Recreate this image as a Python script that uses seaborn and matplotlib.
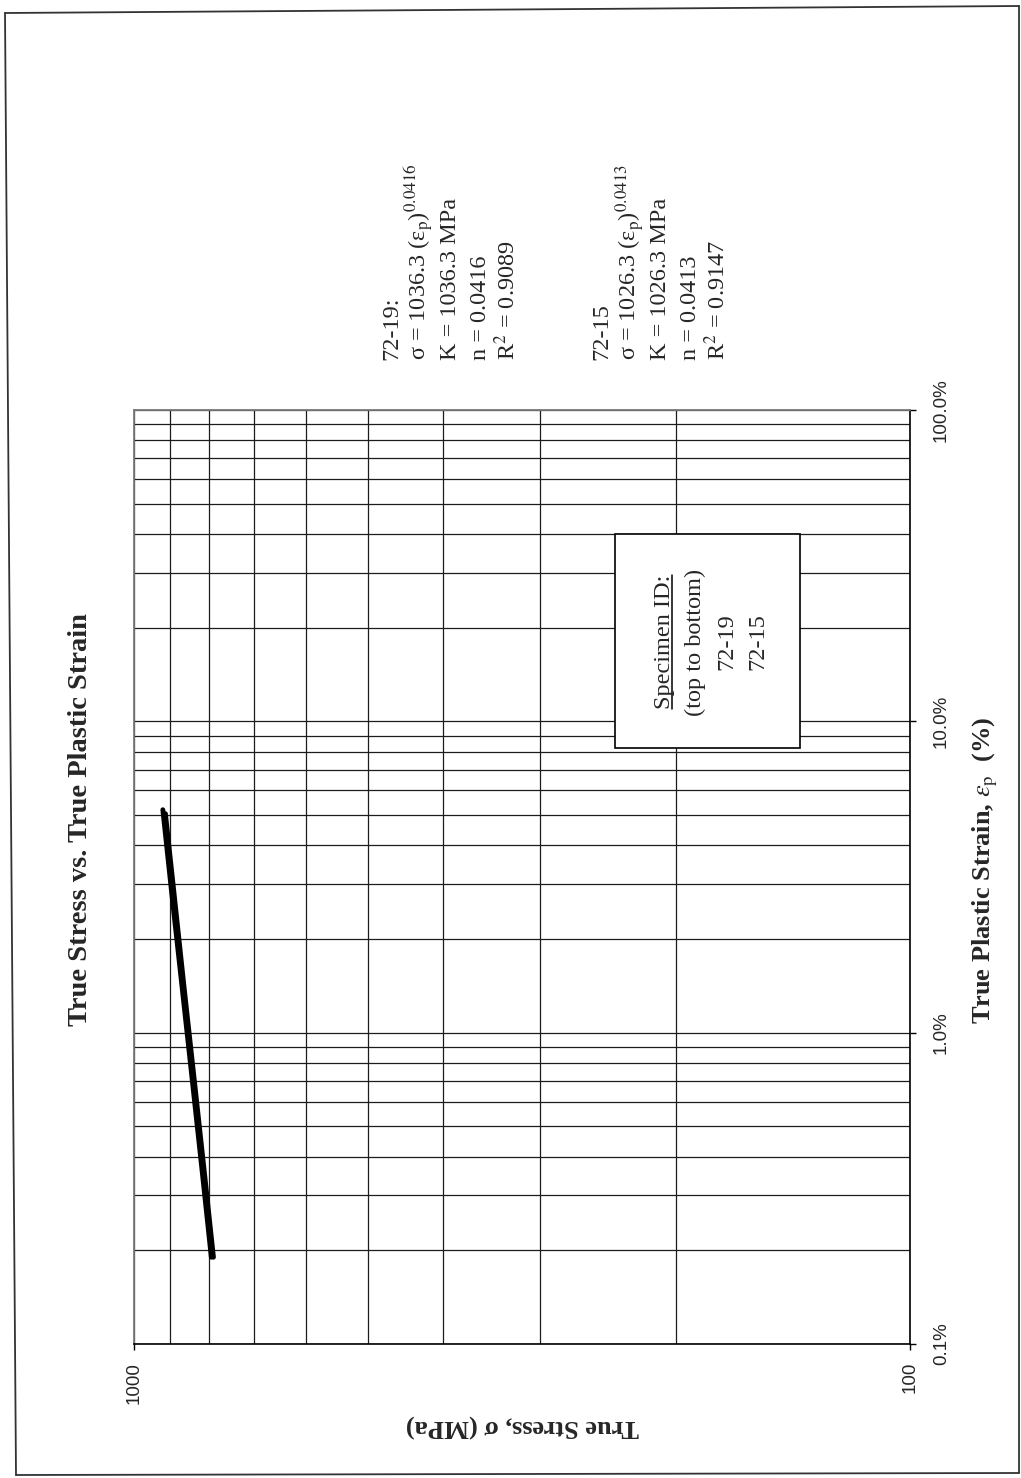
import numpy as np
import pandas as pd
import matplotlib
matplotlib.use("Agg")
import matplotlib.pyplot as plt
from matplotlib.ticker import FixedLocator, FuncFormatter, NullFormatter, LogLocator
from matplotlib.lines import Line2D
from matplotlib.patches import Rectangle
import seaborn as sns

# ---- data: true plastic strain (fraction) vs. true stress (MPa) ----
specimens = ["72-19", "72-15"]
strain_72_19 = [0.0019, 0.0035, 0.0070, 0.0140, 0.0280, 0.0520]
stress_72_19 = [795, 816, 841, 867, 894, 918]
strain_72_15 = [0.0019, 0.0035, 0.0070, 0.0140, 0.0280, 0.0505]
stress_72_15 = [790, 811, 836, 862, 888, 911]

stress_ticks = [100, 1000]
strain_ticks = [0.001, 0.01, 0.1, 1.0]

fit_72_19 = ["72-19:",
             r"σ = 1036.3 (ε$_\mathrm{p}$)$^{\mathrm{0.0416}}$",
             "K = 1036.3 MPa",
             "n = 0.0416",
             r"R$^{\mathrm{2}}$ = 0.9089"]
fit_72_15 = ["72-15",
             r"σ = 1026.3 (ε$_\mathrm{p}$)$^{\mathrm{0.0413}}$",
             "K = 1026.3 MPa",
             "n = 0.0413",
             r"R$^{\mathrm{2}}$ = 0.9147"]
key_lines = ["Specimen ID:", "(top to bottom)", "72-19", "72-15"]

title = "True Stress vs. True Plastic Strain"
strain_label = r"True Plastic Strain, $\varepsilon_\mathrm{p}$  (%)"
stress_label = "True Stress, σ (MPa)"

# ---- figure setup ----
W, H = 1021, 1478
sns.set_theme(style="white")
plt.rcParams["font.family"] = ["Liberation Serif", "DejaVu Serif"]
plt.rcParams["mathtext.fontset"] = "stix"

fig = plt.figure(figsize=(W / 100, H / 100), dpi=100)
fig.patch.set_facecolor("white")


def fx(x):
    return x / W


def fy(y):
    return 1 - y / H


# plot area (page is laid out sideways: stress runs across, strain runs up)
left, right, top, bottom = 134, 910, 410, 1344
ax = fig.add_axes([fx(left), fy(bottom), (right - left) / W, (bottom - top) / H])
ax.set_facecolor("white")

df = pd.DataFrame({
    "specimen": [specimens[0]] * len(strain_72_19) + [specimens[1]] * len(strain_72_15),
    "strain": strain_72_19 + strain_72_15,
    "stress": stress_72_19 + stress_72_15,
})
sns.lineplot(data=df, x="stress", y="strain", hue="specimen", hue_order=specimens,
             palette=["black", "black"], linewidth=3.5, sort=False, estimator=None,
             legend=False, ax=ax, zorder=5)

ax.set_xscale("log")
ax.set_yscale("log")
ax.set_xlim(1000, 100)
ax.set_ylim(0.001, 1.0)
ax.set_xlabel("")
ax.set_ylabel("")

ax.xaxis.set_major_locator(FixedLocator(stress_ticks))
ax.xaxis.set_minor_locator(LogLocator(base=10, subs=np.arange(2, 10)))
ax.xaxis.set_major_formatter(FuncFormatter(lambda v, p: f"{v:.0f}"))
ax.xaxis.set_minor_formatter(NullFormatter())

ax.yaxis.set_major_locator(FixedLocator(strain_ticks))
ax.yaxis.set_minor_locator(LogLocator(base=10, subs=np.arange(2, 10)))
ax.yaxis.set_major_formatter(FuncFormatter(lambda v, p: f"{v * 100:.1f}%"))
ax.yaxis.set_minor_formatter(NullFormatter())

ax.grid(True, which="both", color="#1c1c1c", linewidth=0.9)

ax.tick_params(axis="x", which="major", bottom=True, top=False, direction="out",
               length=4, width=1, color="black", pad=9, labelsize=13.5,
               labelrotation=90)
ax.tick_params(axis="y", which="major", left=False, right=True, labelleft=False,
               labelright=True, direction="out", length=4, width=1, color="black",
               pad=12.5, labelsize=13.5, labelrotation=90)
ax.tick_params(which="minor", length=0)

for side in ["left", "top"]:
    ax.spines[side].set_color("#7a7a7a")
    ax.spines[side].set_linewidth(1.3)
for side in ["right", "bottom"]:
    ax.spines[side].set_color("black")
    ax.spines[side].set_linewidth(1.2)

for lbl in ax.get_xticklabels():
    lbl.set_fontfamily("Liberation Sans")
for lbl in ax.get_yticklabels():
    lbl.set_fontfamily("Liberation Sans")
    lbl.set_verticalalignment("center")

# ---- titles and axis labels ----
fig.text(fx(87), fy(820), title, rotation=90, rotation_mode="anchor",
         ha="center", va="baseline", fontsize=20.5, fontweight="bold")
fig.text(fx(990), fy(870), strain_label, rotation=90, rotation_mode="anchor",
         ha="center", va="baseline", fontsize=19, fontweight="bold")
fig.text(fx((left + right) / 2), fy(1419), stress_label, rotation=180,
         rotation_mode="anchor", ha="center", va="baseline", fontsize=19,
         fontweight="bold")

# ---- power-law fit annotations ----
step = 29.5
for block, x0 in ((fit_72_19, 397), (fit_72_15, 607)):
    for i, line in enumerate(block):
        fig.text(fx(x0 + i * step), fy(360), line, rotation=90,
                 rotation_mode="anchor", ha="left", va="baseline", fontsize=17.5)

# ---- specimen key box ----
box = Rectangle((fx(615), fy(748)), (800 - 615) / W, (748 - 534) / H,
                transform=fig.transFigure, facecolor="white", edgecolor="black",
                linewidth=1.2, zorder=3)
fig.add_artist(box)
key_texts = []
for i, line in enumerate(key_lines):
    t = fig.text(fx(670 + i * 31), fy(642), line, rotation=90,
                 rotation_mode="anchor", ha="center", va="baseline",
                 fontsize=17.5, zorder=4)
    key_texts.append(t)

# underline the key heading
fig.canvas.draw()
bb = key_texts[0].get_window_extent(fig.canvas.get_renderer())
fig.add_artist(Line2D([fx(672), fx(672)], [bb.y0 / H, bb.y1 / H],
                      transform=fig.transFigure, color="black", linewidth=1.1,
                      zorder=4))

# ---- page frame ----
frame_color = "#333333"
for (x1, y1), (x2, y2) in [((5, 13), (16, 1475)), ((5, 13), (1019, 6)),
                           ((1019, 6), (1019, 1473)), ((16, 1475), (1019, 1473))]:
    fig.add_artist(Line2D([fx(x1), fx(x2)], [fy(y1), fy(y2)],
                          transform=fig.transFigure, color=frame_color,
                          linewidth=1.3))

fig.savefig("out.png", dpi=100, facecolor="white")
